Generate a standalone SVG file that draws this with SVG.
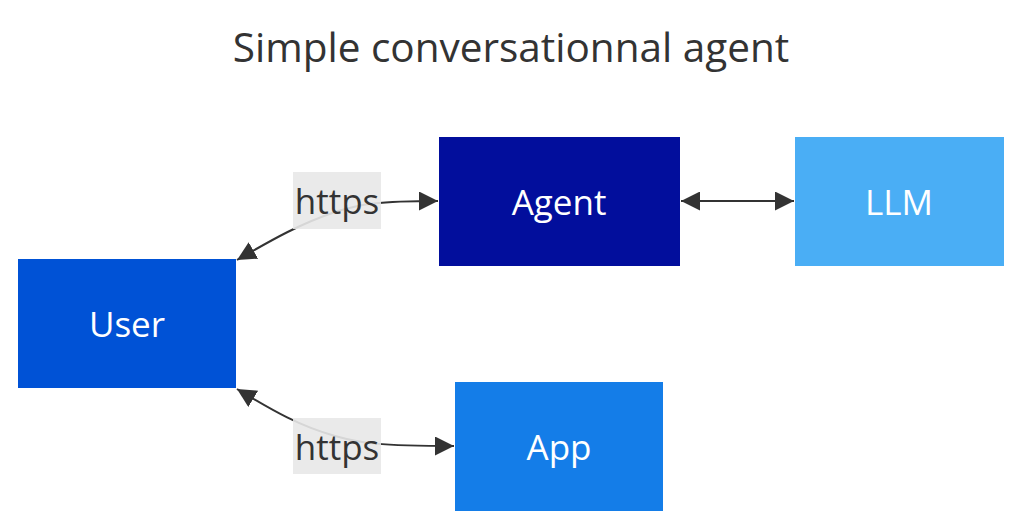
<svg xmlns="http://www.w3.org/2000/svg" width="1024" height="529" viewBox="0 0 1024 529">
<style>
.lbl{font-family:"Open Sans","DejaVu Sans",sans-serif;font-size:35px;fill:#ffffff;text-anchor:middle;dominant-baseline:central}
.elbl{font-family:"Open Sans","DejaVu Sans",sans-serif;font-size:35px;fill:#333333;text-anchor:middle;dominant-baseline:central}
.title{font-family:"Open Sans","DejaVu Sans",sans-serif;font-size:40.5px;fill:#333333;text-anchor:middle}
.edge{fill:none;stroke:#333333;stroke-width:2}
</style>
<defs>
<marker id="arrEnd" viewBox="0 0 10 10" refX="10" refY="5" markerWidth="9.5" markerHeight="9.5" markerUnits="strokeWidth" orient="auto">
<path d="M0,0 L10,5 L0,10 z" fill="#333333"/>
</marker>
<marker id="arrStart" viewBox="0 0 10 10" refX="0" refY="5" markerWidth="9.5" markerHeight="9.5" markerUnits="strokeWidth" orient="auto">
<path d="M10,0 L0,5 L10,10 z" fill="#333333"/>
</marker>
</defs>
<rect width="1024" height="529" fill="#ffffff"/>
<text class="title" x="511" y="62">Simple conversationnal agent</text>
<g id="edges">
<path class="edge" d="M237,260 C275,238 300,224 335,212 C360,204 378,201 438,201" marker-start="url(#arrStart)" marker-end="url(#arrEnd)"/>
<path class="edge" d="M681,201 L794,201" marker-start="url(#arrStart)" marker-end="url(#arrEnd)"/>
<path class="edge" d="M237,389 C275,412 300,426 335,436 C360,443 378,446 454,446" marker-start="url(#arrStart)" marker-end="url(#arrEnd)"/>
<g id="label1"><rect x="293" y="172" width="88" height="57" fill="#e8e8e8" opacity="0.9"/><text class="elbl" x="337" y="200">https</text></g>
<g id="label2"><rect x="293" y="418" width="88" height="56" fill="#e8e8e8" opacity="0.9"/><text class="elbl" x="337" y="446">https</text></g>
</g>
<g id="user"><rect x="18" y="259" width="218" height="129" fill="#0052d6"/><text class="lbl" x="127" y="323">User</text></g>
<g id="agent"><rect x="439" y="137" width="241" height="129" fill="#020e9c"/><text class="lbl" x="559" y="201">Agent</text></g>
<g id="llm"><rect x="795" y="137" width="209" height="129" fill="#4aaef5"/><text class="lbl" x="899" y="201">LLM</text></g>
<g id="app"><rect x="455" y="382" width="208" height="129" fill="#147de8"/><text class="lbl" x="559" y="446">App</text></g>
</svg>
